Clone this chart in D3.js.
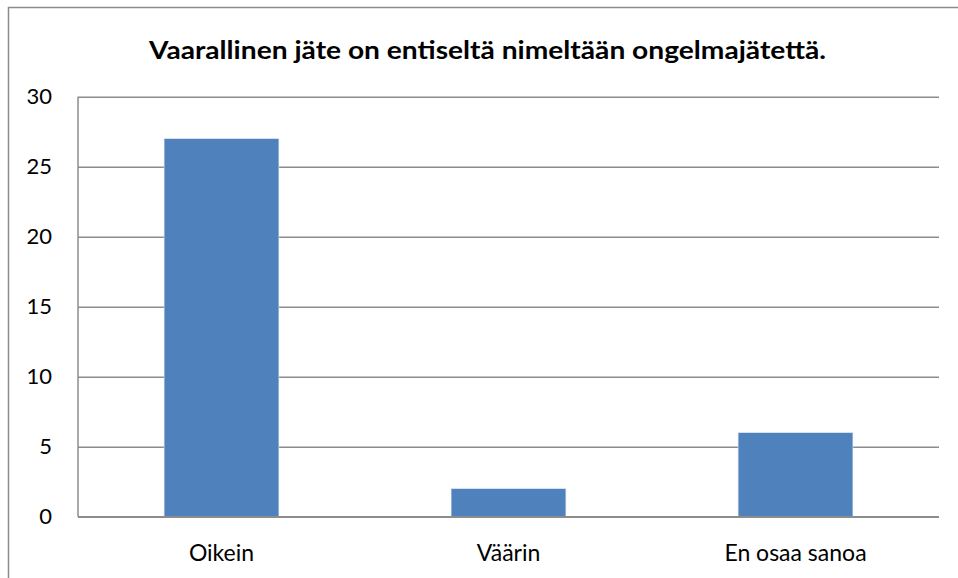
<!doctype html>
<html lang="fi">
<head>
  <meta charset="utf-8">
  <script src="https://d3js.org/d3.v7.min.js"></script>
  <style>
    body { margin: 0; background: #fff; }
    text { font-family: Lato, "Open Sans", sans-serif; fill: #000; }
  </style>
</head>
<body>
  <svg id="chart"></svg>
  <script>
    // values
    const categories = ["Oikein", "Väärin", "En osaa sanoa"];
    const counts = [27, 2, 6];
    const yTicks = [0, 5, 10, 15, 20, 25, 30];
    const title = "Vaarallinen jäte on entiseltä nimeltään ongelmajätettä.";

    const width = 958, height = 578;
    const margin = {top: 97, right: 19, bottom: 61, left: 78};

    const svg = d3.select("#chart")
      .attr("width", width)
      .attr("height", height);

    // outer chart frame (bottom/right run past the picture)
    svg.append("rect")
      .attr("x", 8.5).attr("y", 7.5)
      .attr("width", 980).attr("height", 600)
      .attr("fill", "none")
      .attr("stroke", "#8c8c8c")
      .attr("stroke-width", 1.5);

    const x = d3.scaleBand()
      .domain(categories)
      .range([margin.left, width - margin.right])
      .paddingInner(0.6)
      .paddingOuter(0.3);

    const y = d3.scaleLinear()
      .domain([0, 30])
      .range([height - margin.bottom - 0.3, margin.top - 0.3]);

    // gridlines + y labels
    const yAxis = g => g
      .attr("transform", `translate(${margin.left},0)`)
      .call(d3.axisLeft(y).tickValues(yTicks).tickSize(-(width - margin.left - margin.right)).tickPadding(26))
      .call(g => g.select(".domain").remove())
      .call(g => g.selectAll(".tick line").attr("stroke", "#8c8c8c").attr("stroke-width", 1.5))
      .call(g => g.selectAll(".tick text")
        .attr("font-size", 22)
        .attr("font-family", "Lato, 'Open Sans', sans-serif")
        .attr("fill", "#000"));

    svg.append("g").call(yAxis);

    // left axis line
    svg.append("line")
      .attr("x1", margin.left).attr("x2", margin.left)
      .attr("y1", y(30)).attr("y2", y(0))
      .attr("stroke", "#8c8c8c")
      .attr("stroke-width", 1.5);

    svg.append("g")
      .selectAll("rect")
      .data(counts)
      .join("rect")
        .attr("x", (d, i) => x(categories[i]))
        .attr("width", x.bandwidth())
        .attr("y", d => y(d))
        .attr("height", d => y(0) - y(d))
        .attr("fill", "#4f81bd")
        .attr("stroke", "#dce6f2")
        .attr("stroke-width", 0.6);

    // baseline redrawn over bars
    svg.append("line")
      .attr("x1", margin.left).attr("x2", width - margin.right)
      .attr("y1", y(0)).attr("y2", y(0))
      .attr("stroke", "#8c8c8c")
      .attr("stroke-width", 1.5);

    const xAxis = g => g
      .attr("transform", `translate(0,${y(0)})`)
      .call(d3.axisBottom(x).tickSize(0).tickPadding(28))
      .call(g => g.select(".domain").remove())
      .call(g => g.selectAll(".tick text")
        .attr("font-size", 23)
        .attr("font-family", "Lato, 'Open Sans', sans-serif")
        .attr("fill", "#000"));

    svg.append("g").call(xAxis);

    svg.append("text")
      .attr("x", 487.5)
      .attr("y", 59)
      .attr("text-anchor", "middle")
      .attr("font-size", 25)
      .attr("font-weight", "bold")
      .attr("textLength", 677)
      .attr("lengthAdjust", "spacingAndGlyphs")
      .text(title);
  </script>
</body>
</html>
